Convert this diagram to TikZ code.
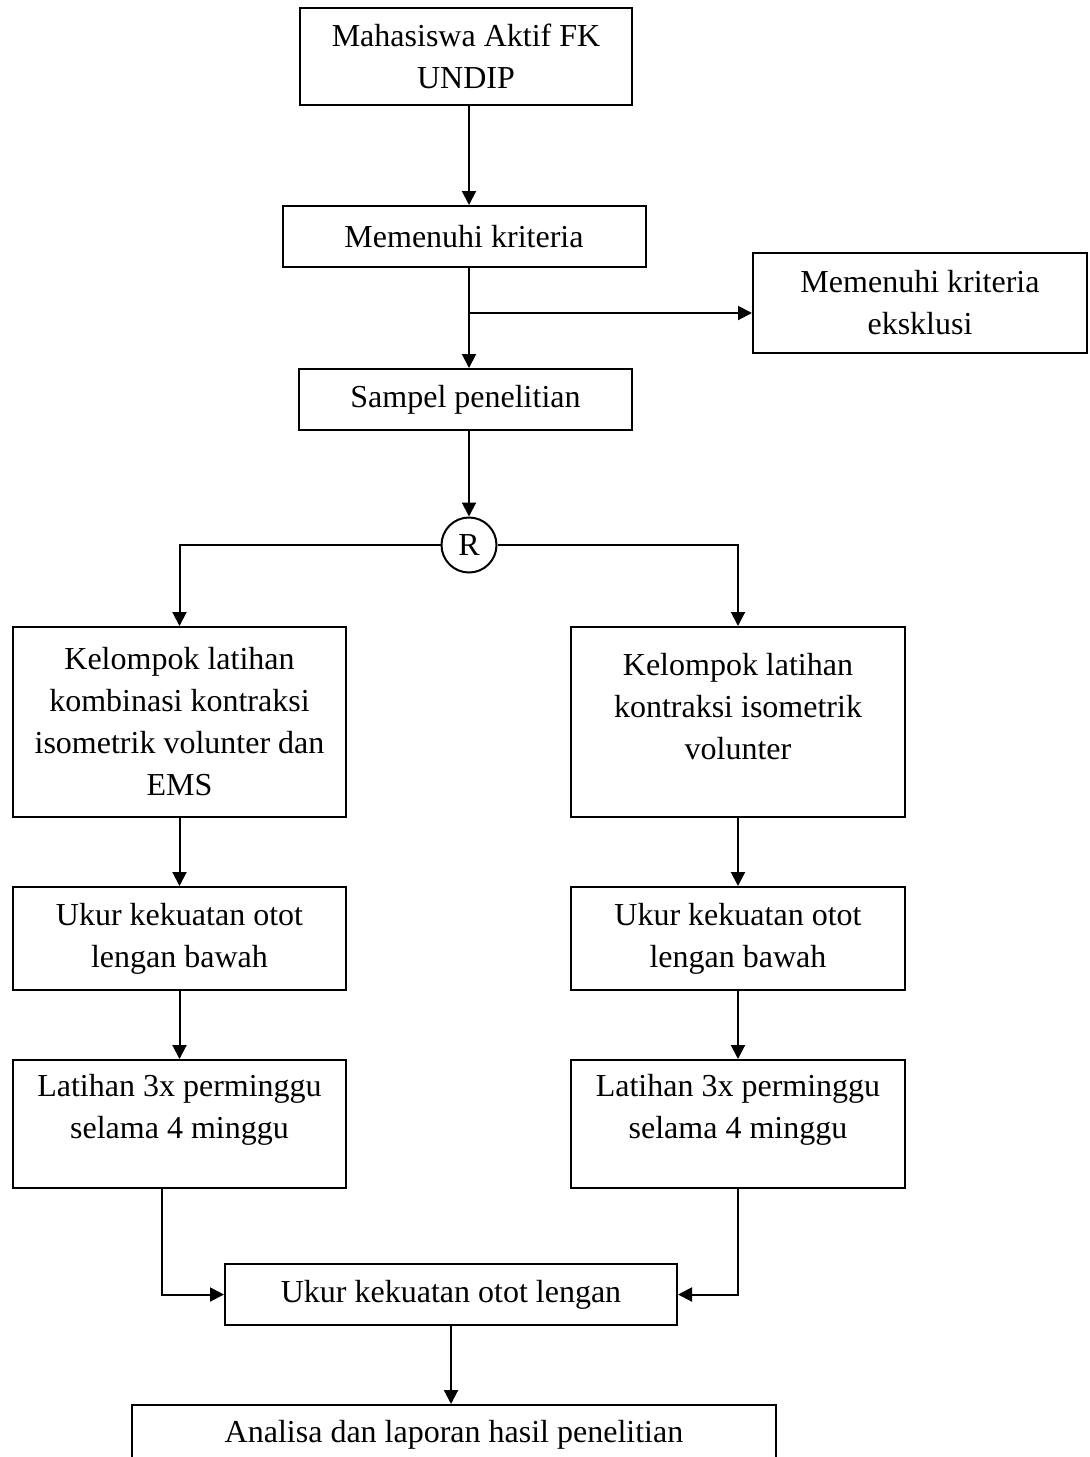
\documentclass[tikz,border=0pt]{standalone}
\usepackage{fontspec}
\setmainfont{Liberation Serif}
\usetikzlibrary{arrows.meta,calc}
\begin{document}
\begin{tikzpicture}[x=0.5pt,y=-0.5pt, line width=1pt,
  txt/.style={align=center, inner sep=0pt, font=\fontsize{16}{21}\selectfont},
  box/.style={draw, rectangle, txt},
  sz/.style 2 args={minimum width=#1*0.5pt, minimum height=#2*0.5pt},
  arr/.style={-{Triangle[length=7pt,width=7pt]}},
]
\useasboundingbox (0,0) rectangle (1090,1457);
\clip (0,0) rectangle (1090,1457);

\node[box, sz={332}{97}] (m1) at (466,56.5) {Mahasiswa Aktif FK\\UNDIP};
\node[box, sz={363}{61}] (m2) at (464,236.5) {Memenuhi kriteria};
\node[box, sz={334}{100}] (ex) at (920,303) {Memenuhi kriteria\\eksklusi};
\node[box, sz={333}{61}] (sp) at (465.5,399.5) {Sampel penelitian};
\node[draw, circle, txt, minimum size=27.5pt] (R) at (469,545) {R};

\node[box, sz={333}{190}] (g1) at (179.5,722) {Kelompok latihan\\kombinasi kontraksi\\isometrik volunter dan\\EMS};
\node[box, sz={334}{190}] (g2) at (738,722) {};
\node[txt] (g2t) at (738,707) {Kelompok latihan\\kontraksi isometrik\\volunter};

\node[box, sz={333}{103}] (u1) at (179.5,938.5) {Ukur kekuatan otot\\lengan bawah};
\node[box, sz={334}{103}] (u2) at (738,938.5) {Ukur kekuatan otot\\lengan bawah};

\node[box, sz={333}{128}] (l1) at (179.5,1124) {};
\node[txt] (l1t) at (179.5,1110) {Latihan 3x perminggu\\selama 4 minggu};
\node[box, sz={334}{128}] (l2) at (738,1124) {};
\node[txt] (l2t) at (738,1110) {Latihan 3x perminggu\\selama 4 minggu};

\node[box, sz={452}{61}] (uk) at (451,1294.5) {Ukur kekuatan otot lengan};
\node[box, sz={644}{60}] (an) at (454,1435) {Analisa dan laporan hasil penelitian};

\coordinate (ax) at (469,0);
\coordinate (br) at (469,313);
\coordinate (lx) at (162,0);

\draw[arr] (m1.south -| ax) -- (m2.north -| ax);
\draw[arr] (m2.south -| ax) -- (sp.north -| ax);
\draw[arr] (br) -- (br -| ex.west);
\draw[arr] (sp.south -| ax) -- (R.north);
\draw[arr] (R.west) -| (g1.north);
\draw[arr] (R.east) -| (g2.north);
\draw[arr] (g1.south) -- (u1.north);
\draw[arr] (u1.south) -- (l1.north);
\draw[arr] (g2.south) -- (u2.north);
\draw[arr] (u2.south) -- (l2.north);
\draw[arr] (l1.south -| lx) |- (uk.west);
\draw[arr] (l2.south) |- (uk.east);
\draw[arr] (uk.south) -- (uk.south |- an.north);
\end{tikzpicture}
\end{document}
